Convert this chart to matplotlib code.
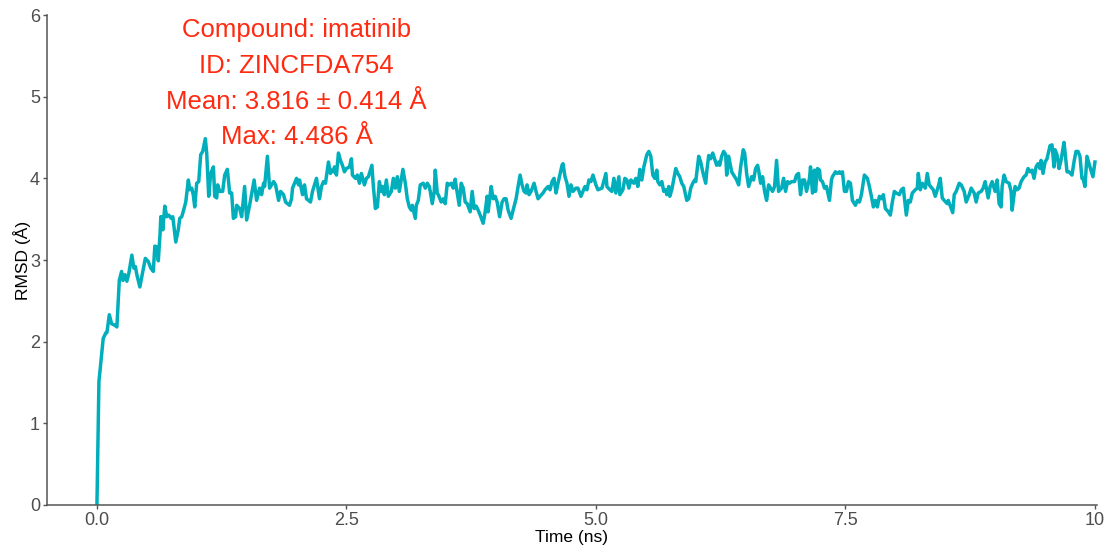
import matplotlib

matplotlib.use("Agg")
import matplotlib.pyplot as plt

plt.rcParams["font.family"] = ["Liberation Sans", "DejaVu Sans"]

# RMSD trace (time in ns, RMSD in angstrom)
time_ns = [
    0.0, 0.02, 0.063, 0.09, 0.10, 0.124, 0.147, 0.18, 0.20, 0.224, 0.247, 0.26, 0.28, 0.30, 0.32,
    0.35, 0.37, 0.385, 0.40, 0.43, 0.46, 0.485, 0.515, 0.54, 0.565, 0.58, 0.60, 0.615, 0.632, 0.64,
    0.655, 0.66, 0.68, 0.70, 0.72, 0.745, 0.76, 0.79, 0.815, 0.83, 0.85, 0.873, 0.89, 0.916, 0.93,
    0.95, 0.965, 0.98, 1.00, 1.02, 1.04, 1.06, 1.086, 1.10, 1.12, 1.14, 1.167, 1.18, 1.20, 1.21,
    1.23, 1.26, 1.28, 1.307, 1.33, 1.35, 1.367, 1.39, 1.40, 1.43, 1.45, 1.48, 1.50, 1.53,
    1.575, 1.60, 1.63, 1.65, 1.67, 1.68, 1.708, 1.73, 1.75, 1.77, 1.79, 1.82, 1.84, 1.87, 1.89,
    1.93, 1.95, 1.96, 2.00, 2.02, 2.03, 2.06, 2.08, 2.10, 2.14, 2.16, 2.18, 2.20, 2.23, 2.25,
    2.27, 2.29, 2.32, 2.34, 2.35, 2.37, 2.38, 2.40, 2.42, 2.44, 2.46, 2.48, 2.50, 2.53, 2.55,
    2.56, 2.59, 2.61, 2.63, 2.65, 2.68, 2.70, 2.72, 2.755, 2.77, 2.79, 2.81, 2.83, 2.85, 2.86,
    2.88, 2.90, 2.92, 2.95, 2.97, 2.99, 3.01, 3.03, 3.066, 3.09, 3.11, 3.13, 3.15, 3.16, 3.19,
    3.20, 3.22, 3.24, 3.27, 3.29, 3.31, 3.33,
    3.34, 3.36, 3.38, 3.39, 3.41, 3.42, 3.45, 3.47, 3.49, 3.51, 3.53, 3.55, 3.57, 3.59, 3.60,
    3.63, 3.65, 3.67, 3.69, 3.71, 3.74, 3.76, 3.78, 3.80, 3.82, 3.84, 3.87, 3.89, 3.91, 3.92,
    3.95, 3.97, 3.99, 4.01, 4.035, 4.06, 4.08, 4.10, 4.12, 4.15, 4.17, 4.20, 4.22, 4.24, 4.26,
    4.28, 4.30, 4.31, 4.33, 4.35, 4.38, 4.40, 4.42, 4.44, 4.47, 4.49, 4.52, 4.54, 4.56, 4.58,
    4.60, 4.62, 4.66, 4.67, 4.69, 4.71, 4.73, 4.75, 4.77, 4.80, 4.82, 4.85, 4.87, 4.89, 4.91,
    4.93, 4.95, 4.97, 5.00, 5.02,
    5.06, 5.10, 5.11, 5.14, 5.16, 5.18, 5.20, 5.23, 5.24, 5.27, 5.29, 5.31, 5.33, 5.35, 5.38,
    5.40, 5.42, 5.44, 5.46, 5.48, 5.51, 5.53, 5.55, 5.57, 5.59, 5.61, 5.62, 5.64, 5.66, 5.68,
    5.70, 5.71, 5.73, 5.74, 5.76, 5.80, 5.82, 5.84, 5.86, 5.88, 5.91, 5.93, 5.95, 5.97, 5.99,
    6.00, 6.03, 6.05, 6.07, 6.10, 6.11, 6.13, 6.15, 6.17, 6.20, 6.21, 6.23, 6.24, 6.26, 6.28,
    6.30, 6.31, 6.33, 6.36, 6.38, 6.41, 6.43, 6.45, 6.476, 6.49, 6.51, 6.53, 6.56, 6.58, 6.60,
    6.62, 6.63, 6.65, 6.67, 6.69, 6.71, 6.73,
    6.77, 6.79, 6.81, 6.83, 6.86, 6.88, 6.90, 6.92, 6.94, 6.96, 6.99, 7.01, 7.03, 7.05, 7.07,
    7.09, 7.11, 7.14, 7.15, 7.17, 7.19, 7.20, 7.22, 7.24, 7.25, 7.27, 7.29, 7.31, 7.34, 7.36,
    7.37, 7.40, 7.42, 7.44, 7.45, 7.47, 7.49, 7.51, 7.53, 7.55, 7.57, 7.60, 7.62, 7.64, 7.66,
    7.69, 7.72, 7.74, 7.76, 7.78, 7.80, 7.82, 7.84, 7.86, 7.88, 7.90, 7.93, 7.95, 7.97, 7.99,
    8.01, 8.04, 8.06, 8.08, 8.11, 8.13, 8.15, 8.17, 8.20, 8.22, 8.23, 8.25, 8.27, 8.30, 8.32,
    8.34,
    8.38, 8.40, 8.43, 8.45, 8.47, 8.49, 8.52, 8.53, 8.56, 8.575, 8.59, 8.61, 8.64, 8.66, 8.69,
    8.71, 8.74, 8.76, 8.79, 8.81, 8.83, 8.86, 8.88, 8.90, 8.93, 8.95, 8.97, 9.00, 9.02, 9.04,
    9.06, 9.07, 9.09, 9.11, 9.14, 9.16, 9.17, 9.20, 9.22, 9.24, 9.26, 9.29, 9.31, 9.33, 9.35,
    9.37, 9.39, 9.41, 9.43, 9.45, 9.46, 9.48, 9.50, 9.52, 9.55, 9.57, 9.59, 9.60, 9.62, 9.64,
    9.66, 9.69, 9.70, 9.72, 9.74, 9.77, 9.79, 9.81, 9.83, 9.85, 9.87, 9.88, 9.90, 9.92, 9.95,
    9.97, 9.98, 10.0,
]
rmsd = [
    0.00, 1.51, 2.04, 2.11, 2.11, 2.33, 2.22, 2.20, 2.18, 2.75, 2.86, 2.75, 2.82, 2.74, 2.84,
    3.06, 2.90, 2.92, 2.82, 2.67, 2.86, 3.02, 2.98, 2.90, 2.86, 3.17, 3.16, 2.99, 3.31, 3.53,
    3.53, 3.37, 3.66, 3.53, 3.55, 3.51, 3.53, 3.22, 3.37, 3.51, 3.53, 3.63, 3.71, 3.98, 3.86,
    3.88, 3.80, 3.65, 3.94, 3.96, 4.29, 4.33, 4.486, 4.31, 3.78, 4.06, 4.14, 3.78, 3.76, 3.92,
    3.84, 3.84, 4.04, 4.11, 3.82, 3.82, 3.51, 3.53, 3.67, 3.63, 3.53, 3.90, 3.49, 3.67,
    3.98, 3.73, 3.88, 3.80, 3.94, 3.90, 4.27, 3.88, 3.92, 3.96, 3.92, 3.73, 3.84, 3.80, 3.71,
    3.67, 3.75, 3.88, 4.00, 3.92, 3.98, 3.80, 3.92, 3.75, 3.71, 3.84, 3.92, 4.00, 3.75, 3.90,
    3.96, 3.94, 4.20, 4.06, 4.10, 4.08, 4.14, 4.04, 4.31, 4.22, 4.16, 4.08, 4.12, 4.14, 4.24,
    4.04, 4.00, 4.04, 3.94, 4.06, 3.92, 4.00, 4.02, 4.16, 3.90, 3.63, 3.65, 3.96, 3.84, 3.90,
    3.80, 3.98, 3.78, 3.84, 4.00, 3.88, 4.02, 3.84, 4.11, 3.94, 3.75, 3.65, 3.61, 3.67, 3.51,
    3.67, 3.73, 3.92, 3.94, 3.88, 3.94, 3.90,
    3.84, 3.69, 3.84, 4.10, 3.82, 3.80, 3.71, 3.75, 3.69, 3.94, 3.92, 3.94, 3.88, 3.99, 3.90,
    3.67, 3.94, 3.88, 3.71, 3.69, 3.59, 3.84, 3.63, 3.66, 3.61, 3.55, 3.45, 3.59, 3.78, 3.59,
    3.90, 3.75, 3.78, 3.71, 3.53, 3.71, 3.75, 3.75, 3.61, 3.51, 3.61, 3.75, 3.90, 4.04, 3.92,
    3.84, 3.82, 3.92, 3.80, 3.84, 3.94, 3.84, 3.75, 3.78, 3.82, 3.86, 3.90, 3.86, 3.96, 4.00,
    3.82, 3.94, 4.16, 4.18, 4.02, 3.94, 3.78, 3.92, 3.84, 3.88, 3.88, 3.78, 3.84, 3.90, 3.86,
    3.98, 3.96, 4.04, 3.92, 3.86,
    3.88, 4.06, 3.90, 3.86, 3.84, 4.00, 3.82, 4.02, 3.80, 3.86, 4.00, 3.98, 3.88, 3.98, 3.94,
    4.00, 3.90, 4.11, 3.98, 4.14, 4.29, 4.33, 4.27, 4.04, 4.00, 4.10, 3.96, 3.92, 3.96, 3.84,
    3.86, 3.80, 3.90, 3.78, 3.86, 4.12, 4.06, 4.02, 3.94, 3.90, 3.73, 3.75, 3.88, 3.94, 3.98,
    3.96, 4.27, 4.20, 4.08, 3.94, 4.08, 4.28, 4.24, 4.31, 4.20, 4.16, 4.20, 4.16, 4.27, 4.33,
    4.29, 4.04, 4.27, 4.08, 4.04, 3.98, 3.92, 4.14, 4.35, 4.31, 4.06, 3.90, 4.02, 3.98, 4.12,
    4.16, 4.10, 3.94, 4.02, 3.84, 3.73, 3.92,
    3.84, 3.90, 4.22, 3.84, 3.88, 4.00, 3.84, 3.96, 3.94, 3.96, 3.96, 4.04, 4.06, 3.80, 3.98,
    3.98, 3.84, 4.00, 4.14, 3.82, 4.10, 3.84, 4.12, 4.10, 3.98, 3.96, 3.88, 3.90, 3.73, 3.98,
    4.02, 4.08, 4.06, 4.08, 4.06, 4.08, 3.84, 3.84, 3.96, 3.94, 3.73, 3.67, 3.73, 3.71, 3.80,
    4.04, 4.00, 3.90, 3.78, 3.65, 3.73, 3.65, 3.78, 3.75, 3.80, 3.63, 3.59, 3.55, 3.71, 3.84,
    3.82, 3.80, 3.86, 3.88, 3.55, 3.73, 3.71, 3.82, 3.86, 3.88, 4.06, 3.86, 3.94, 3.88, 4.06,
    3.92,
    3.86, 3.78, 3.90, 4.00, 3.76, 3.73, 3.69, 3.73, 3.63, 3.58, 3.80, 3.84, 3.94, 3.92, 3.84,
    3.71, 3.80, 3.88, 3.82, 3.71, 3.82, 3.84, 3.88, 3.96, 3.76, 3.90, 3.96, 3.84, 3.98, 3.69,
    3.65, 3.90, 4.04, 3.96, 3.94, 3.84, 3.61, 3.90, 3.86, 3.88, 3.96, 4.02, 4.04, 4.12, 4.08,
    4.10, 4.00, 4.14, 4.18, 4.12, 4.22, 4.06, 4.20, 4.24, 4.40, 4.41, 4.14, 4.35, 4.29, 4.12,
    4.22, 4.44, 4.33, 4.08, 4.08, 4.04, 4.20, 4.33, 4.33, 4.27, 4.00, 4.00, 3.90, 4.27, 4.14,
    4.06, 4.02, 4.20,
]

annotation_lines = [
    "Compound: imatinib",
    "ID: ZINCFDA754",
    "Mean: 3.816 \u00b1 0.414 \u00c5",
    "Max: 4.486 \u00c5",
]
x_ticks = [0.0, 2.5, 5.0, 7.5, 10.0]
x_tick_labels = ["0.0", "2.5", "5.0", "7.5", "10"]
y_ticks = [0, 1, 2, 3, 4, 5, 6]

fig = plt.figure(figsize=(11.04, 5.46), dpi=100)
ax = fig.add_axes([0.0426, 0.0751, 0.951, 0.8974])

ax.plot(time_ns, rmsd, color="#00AFBB", linewidth=2.5, solid_joinstyle="round")

ax.set_xlim(-0.5, 10.02)
ax.set_ylim(0, 6)
ax.set_xticks(x_ticks)
ax.set_xticklabels(x_tick_labels)
ax.set_yticks(y_ticks)

for side in ("top", "right"):
    ax.spines[side].set_visible(False)
for side in ("left", "bottom"):
    ax.spines[side].set_color("#555555")
    ax.spines[side].set_linewidth(1.1)

ax.tick_params(axis="both", colors="#555555", labelcolor="#4D4D4D",
               labelsize=13, length=3, width=1, pad=2)
ax.set_xlabel("Time (ns)", fontsize=12.5, color="black", labelpad=1)
ax.set_ylabel("RMSD (\u00c5)", fontsize=12.5, color="black", labelpad=-1)

ax.text(2.0, 5.16, "\n".join(annotation_lines), color="#FF2A10", fontsize=18.5,
        ha="center", va="center", multialignment="center", linespacing=1.62)

fig.savefig("out.png", dpi=100)
